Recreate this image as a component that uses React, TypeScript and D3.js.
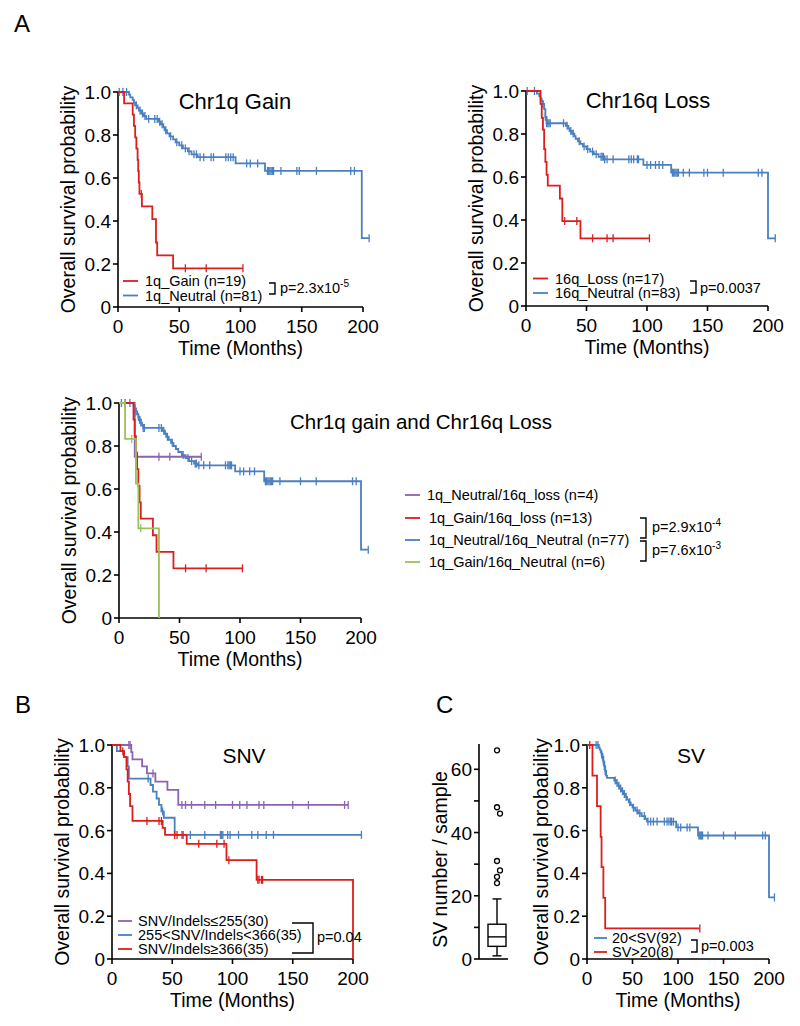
import React from "react";
import * as d3 from "d3";

type Step = [number, number];

const FONT = "'Liberation Sans', Arial, Helvetica, sans-serif";
const RED = "#dc1e1e";
const BLUE = "#4a7fc0";
const PURPLE = "#8a63b3";
const GREEN = "#9cc05a";

// ---- Chr1q gain panel ----
const gain1qSteps: Step[] = [[5, 0.947], [12, 0.895], [13, 0.842], [14, 0.789], [15, 0.737], [16, 0.684], [16.5, 0.632], [17, 0.579], [17.5, 0.526], [19.5, 0.468], [28, 0.409], [31, 0.30], [32, 0.24], [45, 0.18]];
const gain1qCensor = [19, 55, 72, 102];
const neutral1qSteps: Step[] = [[9, 0.988], [10, 0.975], [12, 0.963], [13, 0.951], [14, 0.938], [16, 0.926], [17, 0.914], [19, 0.90], [21, 0.888], [23, 0.875], [33, 0.862], [35, 0.85], [37, 0.836], [38, 0.822], [40, 0.808], [42, 0.794], [45, 0.78], [47, 0.766], [50, 0.752], [53, 0.738], [57, 0.724], [60, 0.71], [65, 0.697], [96, 0.668], [120, 0.633], [199, 0.32]];
const neutral1qCensor = [1, 4, 7, 15, 18, 20, 22, 25, 30, 32, 34, 36, 39, 43, 48, 52, 55, 58, 62, 64, 67, 70, 76, 78, 88, 90, 92, 94, 105, 108, 114, 122, 123, 124, 125, 126, 127, 133, 146, 148, 162, 190, 193, 205];

// ---- Chr16q loss panel ----
const loss16qSteps: Step[] = [[12, 0.94], [13, 0.875], [14, 0.82], [15, 0.73], [16, 0.67], [17, 0.61], [18, 0.56], [28, 0.50], [30, 0.395], [45, 0.315]];
const loss16qCensor = [32, 42, 55, 67, 72, 102];
const neutral16qSteps: Step[] = [[9, 0.988], [11, 0.976], [12, 0.964], [13, 0.952], [14, 0.94], [15, 0.916], [16, 0.88], [17, 0.85], [33, 0.838], [35, 0.826], [36, 0.814], [38, 0.802], [40, 0.79], [41, 0.778], [43, 0.766], [45, 0.754], [47, 0.742], [50, 0.73], [53, 0.718], [56, 0.706], [60, 0.694], [65, 0.682], [97, 0.656], [120, 0.62], [200, 0.315]];
const neutral16qCensor = [1, 7, 14, 16, 17, 18, 19, 20, 31, 34, 37, 39, 44, 48, 51, 55, 58, 62, 63, 64, 65, 67, 72, 85, 87, 89, 92, 93, 100, 103, 107, 110, 113, 121, 122, 123, 124, 125, 126, 130, 135, 147, 150, 163, 192, 195, 206];

// ---- combined panel ----
const neuLossSteps: Step[] = [[13, 0.75]];
const neuLossCensor = [33, 42, 68];
const gainLossSteps: Step[] = [[12, 0.923], [13, 0.846], [14, 0.769], [15, 0.692], [16, 0.615], [17, 0.538], [18, 0.462], [28, 0.385], [31, 0.308], [45, 0.231]];
const gainLossCensor = [55, 72, 102];
const neuNeuSteps: Step[] = [[12, 0.987], [13, 0.974], [14, 0.961], [15, 0.948], [16, 0.935], [17, 0.922], [18, 0.909], [19, 0.896], [20, 0.884], [36, 0.871], [38, 0.857], [39, 0.843], [41, 0.829], [43, 0.815], [45, 0.80], [47, 0.786], [49, 0.772], [52, 0.758], [55, 0.744], [58, 0.73], [62, 0.718], [65, 0.71], [96, 0.682], [120, 0.636], [200, 0.318]];
const neuNeuCensor = [2, 5, 9, 14, 16, 17, 18, 20, 21, 33, 35, 37, 40, 44, 53, 57, 60, 63, 64, 66, 70, 75, 88, 90, 91, 92, 93, 100, 103, 108, 112, 121, 122, 123, 124, 125, 126, 127, 133, 150, 163, 193, 196, 206];
const gainNeuSteps: Step[] = [[5, 0.833], [14, 0.625], [16, 0.417], [33, 0]];
const gainNeuCensor = [10.5, 18];

// ---- SNV panel ----
const snvLowSteps: Step[] = [[16, 0.967], [17, 0.933], [25, 0.90], [29, 0.867], [36, 0.829], [46, 0.79], [55, 0.72]];
const snvLowCensor = [14, 15, 34, 58, 61, 66, 77, 86, 100, 106, 112, 122, 126, 150, 163, 193, 196];
const snvMidSteps: Step[] = [[4, 0.971], [10, 0.943], [13, 0.90], [14, 0.843], [32, 0.813], [34, 0.782], [37, 0.75], [39, 0.72], [41, 0.69], [43, 0.66], [52, 0.58]];
const snvMidCensor = [30, 42, 58, 65, 77, 90, 91, 92, 96, 98, 105, 116, 121, 128, 134, 207];
const snvHighSteps: Step[] = [[7, 0.971], [10, 0.943], [12, 0.886], [13, 0.829], [14, 0.771], [15, 0.714], [17, 0.645], [42, 0.613], [44, 0.58], [62, 0.538], [95, 0.462], [120, 0.37], [200, 0]];
const snvHighCensor = [9, 29, 39, 41, 52, 54, 59, 72, 87, 93, 97, 121, 122, 124, 125];

// ---- SV panel ----
const svLowSteps: Step[] = [[13, 0.989], [14, 0.978], [15, 0.967], [16, 0.956], [17, 0.945], [18, 0.923], [19, 0.901], [20, 0.879], [21, 0.857], [22, 0.846], [30, 0.834], [32, 0.822], [34, 0.81], [36, 0.797], [38, 0.784], [40, 0.771], [42, 0.758], [44, 0.745], [46, 0.732], [48, 0.72], [50, 0.707], [53, 0.694], [56, 0.681], [60, 0.668], [64, 0.655], [66, 0.642], [98, 0.615], [122, 0.577], [200, 0.288]];
const svLowCensor = [10, 12, 16, 17, 18, 19, 20, 31, 33, 35, 37, 39, 41, 43, 47, 51, 55, 58, 63, 67, 70, 73, 77, 85, 88, 90, 92, 93, 95, 100, 103, 110, 113, 123, 124, 125, 126, 127, 133, 150, 163, 193, 196, 206];
const svHighSteps: Step[] = [[6, 0.857], [11, 0.714], [15, 0.571], [16, 0.429], [18, 0.286], [20, 0.143]];
const svHighCensor = [3, 124];

// ---- SV count box plot ----
const svBox = { min: 1, q1: 4, median: 7, q3: 11, max: 19 };
const svOutliers = [24, 26, 28, 31, 46, 48, 66];
const svOutlierShift = [0, 0, 3, 0, 3, 0, 0];

function survAt(steps: Step[], t: number) {
  let s = 1;
  for (const [time, v] of steps) if (time <= t) s = v;
  return s;
}

function KMCurve({ steps, censor, color, x, y }: any) {
  const last = steps[steps.length - 1];
  const end = Math.max(last[0], ...censor);
  const pts: Step[] = [[0, 1], ...steps, [end, last[1]]];
  const line = d3.line<Step>().x(d => x(d[0])).y(d => y(d[1])).curve(d3.curveStepAfter);
  return (
    <g>
      <path d={line(pts) || ""} fill="none" stroke={color} strokeWidth={1.8} />
      {censor.map((t: number, i: number) => {
        const cx = x(t);
        const cy = y(survAt(steps, t));
        return <line key={i} x1={cx} x2={cx} y1={cy - 4} y2={cy + 4} stroke={color} strokeWidth={1.3} />;
      })}
    </g>
  );
}

function KMAxes({ x, y, yLabelOffset = 43 }: any) {
  const [x0, x1] = x.range();
  const [yb, yt] = y.range();
  return (
    <g fontFamily={FONT} fill="#000">
      <line x1={x0} x2={x0} y1={yb} y2={yt} stroke="#000" strokeWidth={1.6} />
      <line x1={x0} x2={x1} y1={yb} y2={yb} stroke="#000" strokeWidth={1.6} />
      {y.ticks(5).map((v: number) => (
        <g key={v}>
          <line x1={x0 - 5} x2={x0} y1={y(v)} y2={y(v)} stroke="#000" strokeWidth={1.6} />
          <text x={x0 - 7} y={y(v) + 7} textAnchor="end" fontSize={19}>{v === 0 ? "0" : v.toFixed(1)}</text>
        </g>
      ))}
      {x.ticks(4).map((v: number) => (
        <g key={v}>
          <line x1={x(v)} x2={x(v)} y1={yb} y2={yb + 5} stroke="#000" strokeWidth={1.6} />
          <text x={x(v)} y={yb + 26} textAnchor="middle" fontSize={19}>{v}</text>
        </g>
      ))}
      <text transform={`translate(${x0 - yLabelOffset},${(yb + yt) / 2}) rotate(-90)`} textAnchor="middle" fontSize={19.5}>
        Overall survival probability
      </text>
      <text x={(x0 + x1) / 2} y={yb + 48} textAnchor="middle" fontSize={19.5}>Time (Months)</text>
    </g>
  );
}

function LegendRow({ x, y, color, label, len = 15, gap = 7 }: any) {
  return (
    <g>
      <line x1={x} x2={x + len} y1={y} y2={y} stroke={color} strokeWidth={1.8} />
      <text x={x + len + gap} y={y + 5} fontSize={14.5} fontFamily={FONT}>{label}</text>
    </g>
  );
}

function Bracket({ x, y1, y2, w = 6 }: any) {
  return <path d={`M${x - w},${y1}H${x}V${y2}H${x - w}`} fill="none" stroke="#000" strokeWidth={1.4} />;
}

export default function App() {
  // panel scales
  const x1 = d3.scaleLinear().domain([0, 200]).range([118, 363]);
  const y1 = d3.scaleLinear().domain([0, 1]).range([307, 92]);
  const x2 = d3.scaleLinear().domain([0, 200]).range([526, 768]);
  const y2 = d3.scaleLinear().domain([0, 1]).range([306, 91]);
  const x3 = d3.scaleLinear().domain([0, 200]).range([119, 361]);
  const y3 = d3.scaleLinear().domain([0, 1]).range([618, 403]);
  const xB = d3.scaleLinear().domain([0, 200]).range([112, 353]);
  const yB = d3.scaleLinear().domain([0, 1]).range([959, 745]);
  const xS = d3.scaleLinear().domain([0, 200]).range([587, 769]);
  const yS = d3.scaleLinear().domain([0, 1]).range([959, 745]);
  const yBox = d3.scaleLinear().domain([0, 68]).range([959, 744]);
  const boxAxisX = 479;
  const boxCx = 497;
  const boxHalf = 9;

  return (
    <div style={{ position: "absolute", left: 0, top: 0 }}>
      <svg width={800} height={1026} style={{ display: "block", background: "#fff" }} fontFamily={FONT}>
        {/* panel letters */}
        <text x={14} y={32} fontSize={24}>A</text>
        <text x={15} y={713} fontSize={24}>B</text>
        <text x={436} y={713} fontSize={24}>C</text>

        {/* Chr1q gain */}
        <KMAxes x={x1} y={y1} />
        <KMCurve steps={neutral1qSteps} censor={neutral1qCensor} color={BLUE} x={x1} y={y1} />
        <KMCurve steps={gain1qSteps} censor={gain1qCensor} color={RED} x={x1} y={y1} />
        <text x={235} y={109} fontSize={22} textAnchor="middle">Chr1q Gain</text>
        <LegendRow x={123} y={281} color={RED} label="1q_Gain (n=19)" />
        <LegendRow x={123} y={295.5} color={BLUE} label="1q_Neutral (n=81)" />
        <Bracket x={275} y1={283} y2={294} />
        <text x={280} y={293} fontSize={14.5}>p=2.3x10<tspan dy={-6} fontSize={10}>-5</tspan></text>

        {/* Chr16q loss */}
        <KMAxes x={x2} y={y2} />
        <KMCurve steps={neutral16qSteps} censor={neutral16qCensor} color={BLUE} x={x2} y={y2} />
        <KMCurve steps={loss16qSteps} censor={loss16qCensor} color={RED} x={x2} y={y2} />
        <text x={648} y={108} fontSize={22} textAnchor="middle">Chr16q Loss</text>
        <LegendRow x={533} y={278.5} color={RED} label="16q_Loss (n=17)" />
        <LegendRow x={533} y={293} color={BLUE} label="16q_Neutral (n=83)" />
        <Bracket x={696} y1={281} y2={293} />
        <text x={700} y={293} fontSize={14.5}>p=0.0037</text>

        {/* combined */}
        <KMAxes x={x3} y={y3} />
        <KMCurve steps={neuNeuSteps} censor={neuNeuCensor} color={BLUE} x={x3} y={y3} />
        <KMCurve steps={neuLossSteps} censor={neuLossCensor} color={PURPLE} x={x3} y={y3} />
        <KMCurve steps={gainLossSteps} censor={gainLossCensor} color={RED} x={x3} y={y3} />
        <KMCurve steps={gainNeuSteps} censor={gainNeuCensor} color={GREEN} x={x3} y={y3} />
        <text x={421} y={429} fontSize={20.5} textAnchor="middle">Chr1q gain and Chr16q Loss</text>
        <LegendRow x={405} y={495} color={PURPLE} label="1q_Neutral/16q_loss (n=4)" />
        <LegendRow x={405} y={518} color={RED} label="1q_Gain/16q_loss (n=13)" gap={9} />
        <LegendRow x={405} y={540} color={BLUE} label="1q_Neutral/16q_Neutral (n=77)" gap={9} />
        <LegendRow x={405} y={562} color={GREEN} label="1q_Gain/16q_Neutral (n=6)" gap={9} />
        <Bracket x={646} y1={518} y2={538} />
        <Bracket x={646} y1={541} y2={561} />
        <text x={652} y={532} fontSize={14.5}>p=2.9x10<tspan dy={-6} fontSize={10}>-4</tspan></text>
        <text x={652} y={555} fontSize={14.5}>p=7.6x10<tspan dy={-6} fontSize={10}>-3</tspan></text>

        {/* SNV */}
        <KMAxes x={xB} y={yB} />
        <KMCurve steps={snvLowSteps} censor={snvLowCensor} color={PURPLE} x={xB} y={yB} />
        <KMCurve steps={snvMidSteps} censor={snvMidCensor} color={BLUE} x={xB} y={yB} />
        <KMCurve steps={snvHighSteps} censor={snvHighCensor} color={RED} x={xB} y={yB} />
        <text x={244} y={763} fontSize={21} textAnchor="middle">SNV</text>
        <LegendRow x={118} y={921} color={PURPLE} label="SNV/Indels≤255(30)" len={14} gap={6} />
        <LegendRow x={118} y={935} color={BLUE} label="255<SNV/Indels<366(35)" len={14} gap={6} />
        <LegendRow x={118} y={949} color={RED} label="SNV/Indels≥366(35)" len={14} gap={6} />
        <Bracket x={313} y1={923} y2={953} w={21} />
        <text x={317} y={942} fontSize={14.5}>p=0.04</text>

        {/* SV count box plot */}
        <g>
          <line x1={boxAxisX} x2={boxAxisX} y1={yBox(0)} y2={yBox(68)} stroke="#000" strokeWidth={1.6} />
          <line x1={boxAxisX} x2={508} y1={yBox(0)} y2={yBox(0)} stroke="#000" strokeWidth={1.6} />
          {d3.range(0, 61, 10).map(v => (
            <line key={v} x1={boxAxisX - 5} x2={boxAxisX} y1={yBox(v)} y2={yBox(v)} stroke="#000" strokeWidth={1.6} />
          ))}
          {[0, 20, 40, 60].map(v => (
            <text key={v} x={boxAxisX - 7} y={yBox(v) + 7} textAnchor="end" fontSize={19}>{v}</text>
          ))}
          <text transform={`translate(447,${(yBox(0) + yBox(68)) / 2 + 8}) rotate(-90)`} textAnchor="middle" fontSize={19.5}>
            SV number / sample
          </text>
          <line x1={boxCx} x2={boxCx} y1={yBox(svBox.min)} y2={yBox(svBox.q1)} stroke="#000" strokeWidth={1.4} />
          <line x1={boxCx} x2={boxCx} y1={yBox(svBox.q3)} y2={yBox(svBox.max)} stroke="#000" strokeWidth={1.4} />
          <line x1={boxCx - 4.5} x2={boxCx + 4.5} y1={yBox(svBox.min)} y2={yBox(svBox.min)} stroke="#000" strokeWidth={1.4} />
          <line x1={boxCx - 4.5} x2={boxCx + 4.5} y1={yBox(svBox.max)} y2={yBox(svBox.max)} stroke="#000" strokeWidth={1.4} />
          <rect x={boxCx - boxHalf} y={yBox(svBox.q3)} width={boxHalf * 2} height={yBox(svBox.q1) - yBox(svBox.q3)} fill="#fff" stroke="#000" strokeWidth={1.4} />
          <line x1={boxCx - boxHalf} x2={boxCx + boxHalf} y1={yBox(svBox.median)} y2={yBox(svBox.median)} stroke="#000" strokeWidth={1.4} />
          {svOutliers.map((v, i) => (
            <circle key={i} cx={boxCx + svOutlierShift[i]} cy={yBox(v)} r={2.5} fill="#fff" stroke="#000" strokeWidth={1.3} />
          ))}
        </g>

        {/* SV */}
        <KMAxes x={xS} y={yS} yLabelOffset={39} />
        <KMCurve steps={svLowSteps} censor={svLowCensor} color={BLUE} x={xS} y={yS} />
        <KMCurve steps={svHighSteps} censor={svHighCensor} color={RED} x={xS} y={yS} />
        <text x={691} y={763} fontSize={21} textAnchor="middle">SV</text>
        <LegendRow x={594} y={938} color={BLUE} label="20<SV(92)" len={13} gap={5} />
        <LegendRow x={594} y={952} color={RED} label="SV>20(8)" len={13} gap={5} />
        <Bracket x={697} y1={940} y2={952} />
        <text x={701} y={951} fontSize={14.5}>p=0.003</text>
      </svg>
    </div>
  );
}
